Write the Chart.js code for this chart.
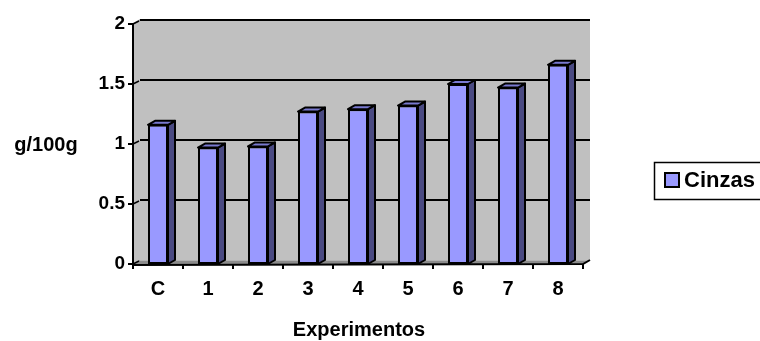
<!DOCTYPE html>
<html>
<head>
<meta charset="utf-8">
<script src="https://cdn.jsdelivr.net/npm/chart.js@4.4.0/dist/chart.umd.min.js"></script>
<style>
  html, body { margin: 0; padding: 0; background: #ffffff; }
  #wrap { width: 760px; height: 341px; position: relative; }
</style>
</head>
<body>
<div id="wrap"><canvas id="c" width="760" height="341"></canvas></div>
<script>
// Ash content per experiment (g/100g)
const categories = ['C', '1', '2', '3', '4', '5', '6', '7', '8'];
const cinzas = [1.16, 0.97, 0.98, 1.27, 1.29, 1.32, 1.50, 1.47, 1.66];
const yTicks = [0, 0.5, 1, 1.5, 2];
const seriesName = 'Cinzas';
const xTitle = 'Experimentos';
const yTitle = 'g/100g';

const FONT = '"Liberation Sans", Arial, sans-serif';
const DX = 7, DY = 4;          // depth offset of the back wall / bar boxes
const FRONT = '#9999FF', TOP = '#7A7AD0', SIDE = '#4A4A82';

const depth3d = {
  id: 'depth3d',
  beforeDatasetsDraw(chart) {
    const ctx = chart.ctx, a = chart.chartArea, y = chart.scales.y;
    const L = a.left, R = a.right, T = a.top, B = a.bottom;
    ctx.save();
    // back wall + left side wall
    ctx.fillStyle = '#C0C0C0';
    ctx.beginPath();
    ctx.moveTo(L, T); ctx.lineTo(L + DX, T - DY); ctx.lineTo(R + DX, T - DY);
    ctx.lineTo(R + DX, B - DY); ctx.lineTo(R, B); ctx.lineTo(L, B); ctx.closePath();
    ctx.fill();
    // wall top edge
    ctx.strokeStyle = '#9A9A9A'; ctx.lineWidth = 1.5;
    ctx.beginPath(); ctx.moveTo(L, T); ctx.lineTo(L + DX, T - DY); ctx.lineTo(R + DX, T - DY); ctx.stroke();
    // floor
    ctx.fillStyle = '#8C8C8C';
    ctx.beginPath();
    ctx.moveTo(L, B); ctx.lineTo(L + DX, B - DY); ctx.lineTo(R + DX, B - DY); ctx.lineTo(R, B); ctx.closePath();
    ctx.fill();
    ctx.strokeStyle = '#B4B4B4'; ctx.lineWidth = 1;
    ctx.beginPath(); ctx.moveTo(L + DX, B - DY + 0.5); ctx.lineTo(R + DX, B - DY + 0.5); ctx.stroke();
    // gridlines on the back wall, joined to the axis across the side wall
    ctx.strokeStyle = '#000'; ctx.lineWidth = 2;
    yTicks.forEach(v => {
      const py = y.getPixelForValue(v);
      if (v > 0) {
        ctx.beginPath(); ctx.moveTo(L + DX, py - DY); ctx.lineTo(R + DX, py - DY); ctx.stroke();
      }
      ctx.lineWidth = 1.5;
      ctx.beginPath(); ctx.moveTo(L, py); ctx.lineTo(L + DX - 1, py - DY + 1); ctx.stroke();
      ctx.lineWidth = 2;
      // tick mark
      ctx.beginPath(); ctx.moveTo(L - 5, py); ctx.lineTo(L, py); ctx.stroke();
    });
    // axes
    ctx.lineWidth = 2;
    ctx.beginPath(); ctx.moveTo(L, T - 1); ctx.lineTo(L, B + 1); ctx.lineTo(R, B); ctx.lineTo(R + DX, B - DY); ctx.stroke();
    const step = (R - L) / categories.length;
    for (let i = 0; i <= categories.length; i++) {
      const px = L + i * step;
      ctx.beginPath(); ctx.moveTo(px, B); ctx.lineTo(px, B + 5); ctx.stroke();
    }
    ctx.restore();
  },
  afterDatasetsDraw(chart) {
    const ctx = chart.ctx;
    const meta = chart.getDatasetMeta(0);
    ctx.save();
    ctx.lineWidth = 2; ctx.strokeStyle = '#000'; ctx.lineJoin = 'round';
    meta.data.forEach(bar => {
      const l = bar.x - bar.width / 2, r = bar.x + bar.width / 2, t = bar.y, b = bar.base;
      // side face
      ctx.fillStyle = SIDE;
      ctx.beginPath();
      ctx.moveTo(r, t); ctx.lineTo(r + DX, t - DY); ctx.lineTo(r + DX, b - DY); ctx.lineTo(r, b); ctx.closePath();
      ctx.fill(); ctx.stroke();
      // top face
      ctx.fillStyle = TOP;
      ctx.beginPath();
      ctx.moveTo(l, t); ctx.lineTo(l + DX, t - DY); ctx.lineTo(r + DX, t - DY); ctx.lineTo(r, t); ctx.closePath();
      ctx.fill(); ctx.stroke();
    });
    ctx.restore();
  },
  afterDraw(chart) {
    const ctx = chart.ctx, a = chart.chartArea;
    ctx.save();
    ctx.fillStyle = '#000';
    ctx.font = 'bold 20px ' + FONT;
    ctx.textBaseline = 'middle';
    // y title (horizontal)
    ctx.textAlign = 'center';
    ctx.fillText(yTitle, 46, chart.scales.y.getPixelForValue(1) + 1);
    // x title
    ctx.fillText(xTitle, (a.left + a.right) / 2 + 1, 330);
    // legend
    ctx.fillStyle = '#fff'; ctx.strokeStyle = '#000'; ctx.lineWidth = 1.5;
    ctx.fillRect(654, 162, 120, 37); ctx.strokeRect(654.5, 162.5, 120, 37);
    ctx.fillStyle = FRONT; ctx.lineWidth = 2;
    ctx.fillRect(665, 173, 14, 14); ctx.strokeRect(665, 173, 14, 14);
    ctx.fillStyle = '#000';
    ctx.textAlign = 'left';
    ctx.font = 'bold 22px ' + FONT;
    ctx.fillText(chart.data.datasets[0].label, 684, 181);
    ctx.restore();
  }
};

new Chart(document.getElementById('c'), {
  type: 'bar',
  data: {
    labels: categories,
    datasets: [{
      label: seriesName,
      data: cinzas,
      backgroundColor: FRONT,
      borderColor: '#000',
      borderWidth: 2,
      borderSkipped: false,
      categoryPercentage: 1,
      barPercentage: 0.4
    }]
  },
  options: {
    responsive: false,
    animation: false,
    devicePixelRatio: 1,
    layout: { padding: { left: 0, right: 177, top: 24, bottom: 0 } },
    plugins: { legend: { display: false }, tooltip: { enabled: false } },
    scales: {
      x: {
        grid: { display: false, drawTicks: false },
        border: { display: false },
        ticks: { color: '#000', font: { family: FONT, size: 20, weight: 'bold' }, padding: 13 },
        afterFit(s) { s.height = 77; }
      },
      y: {
        min: 0, max: 2,
        grid: { display: false, drawTicks: false },
        border: { display: false },
        afterBuildTicks(s) { s.ticks = yTicks.map(v => ({ value: v })); },
        ticks: {
          color: '#000', font: { family: FONT, size: 19, weight: 'bold' }, padding: 8,
          callback: v => String(v)
        },
        afterFit(s) { s.width = 133; }
      }
    }
  },
  plugins: [depth3d]
});
</script>
</body>
</html>
